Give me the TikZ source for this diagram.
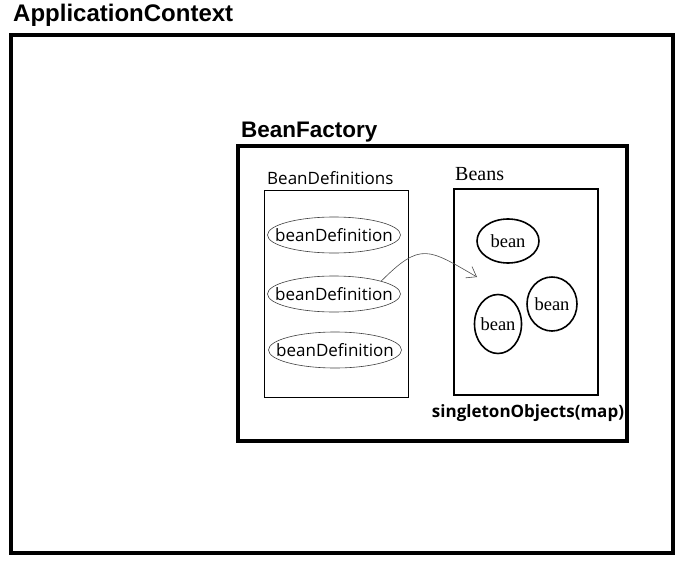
\documentclass[tikz,border=0pt]{standalone}
\usepackage{fontspec}
\setmainfont{Liberation Serif}
\newfontfamily\headfont{Liberation Sans}
\newfontfamily\uifont{Open Sans}
\usetikzlibrary{positioning}
\usetikzlibrary{arrows.meta}
\usetikzlibrary{shapes}

\begin{document}
\begin{tikzpicture}[x=1pt,y=1pt,
      box style/.style={rectangle,draw=black,line width=3.5pt,inner
        sep=0pt,outer sep=0pt},
      list style/.style={rectangle,draw=black,inner sep=0pt,outer sep=0pt},
      def style/.style={ellipse,draw=black!75,line width=0.6pt,minimum
        width=133pt,minimum height=36pt,inner xsep=-12pt,inner ysep=0pt,
        outer sep=0pt,font=\uifont\fontsize{17}{17}\selectfont},
      bean style/.style={ellipse,draw=black,line width=1.6pt,inner
        xsep=-3pt,inner ysep=0pt,font=\fontsize{18.5}{18.5}\selectfont},
      title style/.style={anchor=base west,inner sep=0pt,
        font=\headfont\bfseries\fontsize{24}{24}\selectfont},
      label style/.style={anchor=base west,inner sep=0pt}
      ]
      \useasboundingbox (0,0) rectangle (684,563);

      \node[box style,minimum width=662pt,minimum height=518pt] (ctx) at (342,269) {};
      \node[title style] (ctxname) at (13,541) {ApplicationContext};

      \node[box style,minimum width=389pt,minimum height=295pt] (factory) at (432.5,269.5) {};
      \node[title style,font=\headfont\bfseries\fontsize{22.5}{22.5}\selectfont] (factoryname) at (241,425) {BeanFactory};

      \node[list style,line width=0.7pt,minimum width=144pt,minimum height=207pt] (defs) at (336,269.5) {};
      \node[label style,font=\uifont\fontsize{17}{17}\selectfont] (defsname) at (267,378) {BeanDefinitions};
      \node[def style] (def1) at (334,328) {beanDefinition};
      \node[def style,below=23pt of def1.south,anchor=north] (def2) {beanDefinition};
      \node[def style,below=20pt of def2.south,anchor=north,xshift=1pt] (def3) {beanDefinition};

      \node[list style,line width=1.6pt,minimum width=144pt,minimum height=206pt] (beans) at (526,271) {};
      \node[label style,font=\fontsize{20}{20}\selectfont] (beansname) at (455,382) {Beans};
      \node[bean style,minimum width=62pt,minimum height=44pt] (bean1) at (508,322) {bean};
      \node[bean style,minimum width=50pt,minimum height=54pt] (bean2) at (552,259) {bean};
      \node[bean style,minimum width=47pt,minimum height=59pt] (bean3) at (498,239) {bean};
      \node[inner sep=0pt,anchor=base,font=\uifont\bfseries\fontsize{17}{17}\selectfont] (mapname) at (528,146) {singletonObjects(map)};

      \coordinate (into) at (477,286);

      \draw[black!70,line width=0.6pt,-{Straight Barb[length=9pt,width=13pt]}] (def2.north east) to [out=45,in=150,looseness=1.5] (into);

    \end{tikzpicture}
\end{document}
